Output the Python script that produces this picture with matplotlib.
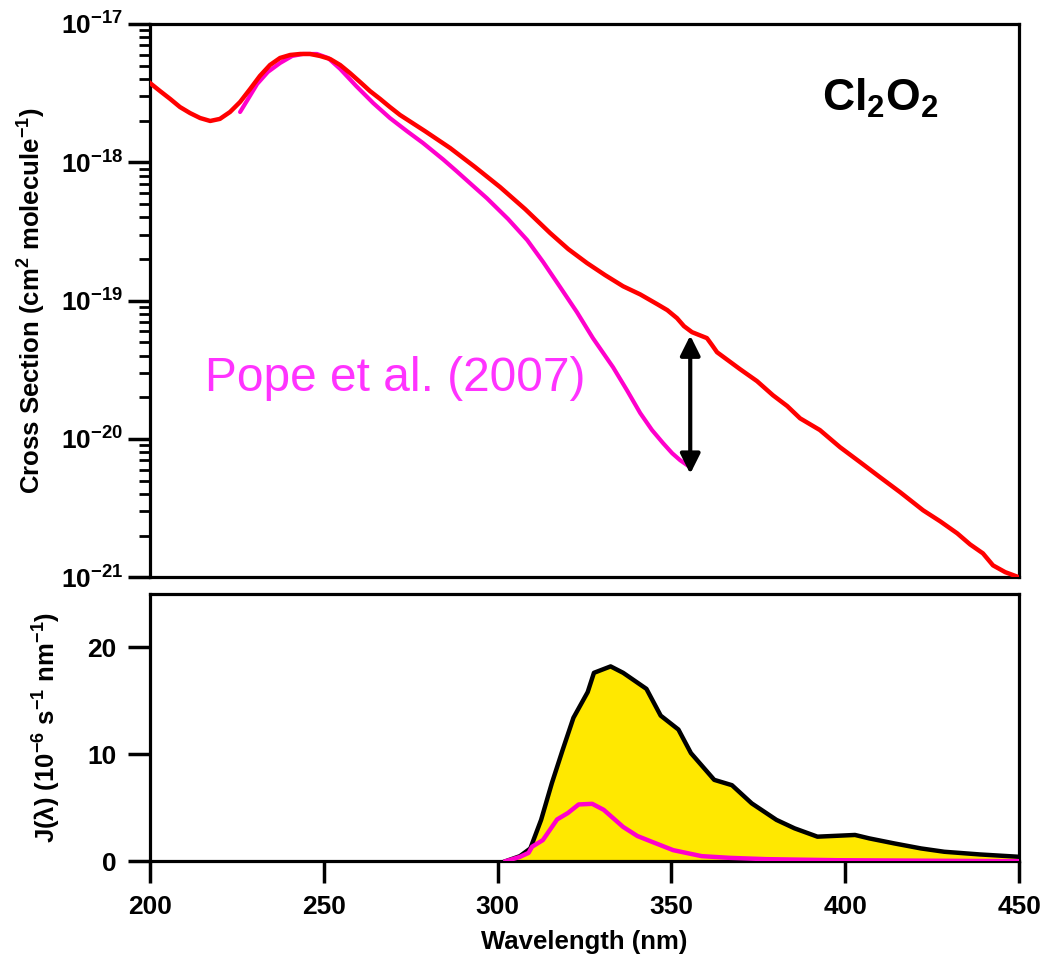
import math
import matplotlib
matplotlib.use("Agg")
import matplotlib.pyplot as plt
from matplotlib.ticker import LogLocator, FuncFormatter, NullFormatter

plt.rcParams['font.family'] = ['Liberation Sans', 'DejaVu Sans']
plt.rcParams['font.weight'] = 'bold'
plt.rcParams['mathtext.fontset'] = 'custom'
plt.rcParams['mathtext.rm'] = 'Liberation Sans:bold'
plt.rcParams['mathtext.bf'] = 'Liberation Sans:bold'
plt.rcParams['mathtext.default'] = 'bf'
plt.rcParams['axes.unicode_minus'] = False

# cross section (red curve)
wl_xs = [200.0, 202.9, 205.8, 208.6, 211.5, 214.4, 217.3, 220.1, 223.0, 225.9,
         228.8, 231.6, 234.5, 237.4, 240.3, 243.2, 246.0, 248.9, 251.8, 254.7,
         257.5, 260.4, 263.3, 266.2, 269.0, 271.9, 279.1, 286.3, 293.5, 300.7,
         307.9, 315.1, 320.3, 325.7, 330.9, 336.1, 341.0, 345.9, 348.8, 351.6,
         353.6, 355.9, 360.2, 361.7, 363.1, 369.7, 374.6, 379.2, 383.3, 387.0,
         392.7, 398.5, 404.3, 410.0, 415.8, 422.4, 427.3, 432.2, 435.9, 439.6,
         442.5, 446.0, 450.0]
xs_red = [3.74e-18, 3.27e-18, 2.87e-18, 2.51e-18, 2.27e-18, 2.09e-18, 1.99e-18,
          2.06e-18, 2.31e-18, 2.73e-18, 3.39e-18, 4.21e-18, 5.05e-18, 5.68e-18,
          5.97e-18, 6.07e-18, 6.07e-18, 5.87e-18, 5.58e-18, 5.05e-18, 4.42e-18,
          3.81e-18, 3.27e-18, 2.87e-18, 2.51e-18, 2.20e-18, 1.68e-18, 1.27e-18,
          9.24e-19, 6.62e-19, 4.59e-19, 3.08e-19, 2.36e-19, 1.87e-19, 1.53e-19,
          1.27e-19, 1.11e-19, 9.43e-20, 8.54e-20, 7.47e-20, 6.54e-20, 5.92e-20,
          5.36e-20, 4.76e-20, 4.24e-20, 3.20e-20, 2.62e-20, 2.07e-20, 1.73e-20,
          1.41e-20, 1.16e-20, 8.72e-21, 6.79e-21, 5.29e-21, 4.12e-21, 3.05e-21,
          2.54e-21, 2.08e-21, 1.73e-21, 1.49e-21, 1.22e-21, 1.09e-21, 1.0e-21]

# Pope et al. (2007)
wl_pope = [225.9, 228.2, 230.8, 233.9, 237.4, 240.9, 244.0, 248.0, 251.2, 254.7,
           259.3, 264.2, 269.0, 273.9, 278.5, 284.3, 288.0, 292.9, 296.9, 303.0,
           308.5, 313.1, 318.0, 322.8, 327.4, 333.2, 337.2, 341.0, 344.4, 347.6,
           350.2, 352.5, 355.4]
xs_pope = [2.31e-18, 2.87e-18, 3.68e-18, 4.50e-18, 5.22e-18, 5.87e-18, 6.07e-18,
           6.07e-18, 5.68e-18, 4.73e-18, 3.56e-18, 2.68e-18, 2.09e-18, 1.68e-18,
           1.38e-18, 1.05e-18, 8.71e-19, 6.76e-19, 5.50e-19, 3.89e-19, 2.74e-19,
           1.90e-19, 1.25e-19, 8.26e-20, 5.36e-20, 3.30e-20, 2.25e-20, 1.54e-20,
           1.16e-20, 9.32e-21, 7.89e-21, 7.02e-21, 6.25e-21]

# J(lambda)
wl_j = [302.3, 306.4, 309.4, 312.5, 315.6, 318.7, 321.8, 325.9, 327.7, 332.5,
        336.1, 342.8, 346.9, 352.0, 355.6, 362.3, 367.4, 373.1, 380.2, 385.4,
        392.0, 402.8, 406.9, 414.1, 421.8, 428.5, 438.7, 450]
j_red = [0, 0.47, 1.19, 3.86, 7.3, 10.4, 13.4, 15.8, 17.6, 18.2, 17.6, 16.1,
         13.6, 12.3, 10.1, 7.6, 7.1, 5.4, 3.86, 3.07, 2.29, 2.45, 2.13, 1.66,
         1.19, 0.88, 0.63, 0.41]

wl_jp = [302.3, 306.4, 308.9, 309.9, 313.0, 317.1, 320.2, 323.3, 327.2, 330.5,
         336.1, 340.2, 344.3, 350.5, 358.7, 366.9, 377.2, 397.7, 450]
j_pope = [0, 0.4, 0.78, 1.35, 1.97, 3.9, 4.5, 5.3, 5.36, 4.8, 3.2, 2.35, 1.82,
          1.03, 0.47, 0.31, 0.19, 0.09, 0.0]

decades = [1e-21, 1e-20, 1e-19, 1e-18, 1e-17]
arrow_wl = 355.4
arrow_lo, arrow_hi = 5.6e-21, 5.6e-20

red = '#FF0000'
mag = '#FF00CC'
yellow = '#FFE800'
sw = 2.3
tick_fs = 19
lab_fs = 18.5

fig = plt.figure(figsize=(10.42, 9.59), dpi=100)
ax1 = fig.add_axes([0.144, 0.398, 0.834, 0.577])
ax2 = fig.add_axes([0.144, 0.102, 0.834, 0.279])

# top panel
ax1.plot(wl_xs, xs_red, color=red, lw=3.2, zorder=3)
ax1.plot(wl_pope, xs_pope, color=mag, lw=3.0, zorder=2, solid_capstyle='round')
ax1.set_yscale('log')
ax1.set_xlim(200, 450)
ax1.set_ylim(1e-21, 1e-17)
ax1.annotate('', xy=(arrow_wl, arrow_hi), xytext=(arrow_wl, arrow_lo),
             arrowprops=dict(arrowstyle='<|-|>', color='black', lw=3,
                             mutation_scale=30, shrinkA=0, shrinkB=0))
ax1.set_yticks(decades)
ax1.yaxis.set_minor_locator(LogLocator(base=10, subs=range(2, 10), numticks=20))
ax1.yaxis.set_major_formatter(FuncFormatter(lambda v, p: r'$10^{%d}$' % round(math.log10(v))))
ax1.yaxis.set_minor_formatter(NullFormatter())
ax1.tick_params(axis='y', which='major', direction='out', length=16, width=2.5, labelsize=tick_fs)
ax1.tick_params(axis='y', which='minor', direction='out', length=8, width=2)
ax1.tick_params(axis='x', which='both', bottom=False, labelbottom=False)
for t in ax1.yaxis.get_major_ticks():
    t.label1.set_verticalalignment('center_baseline')
ax1.set_ylabel(r'Cross Section (cm$^{2}$ molecule$^{-1}$)', fontsize=lab_fs, fontweight='bold')
ax1.yaxis.set_label_coords(-0.118, 0.5)
ax1.text(0.84, 0.865, r'Cl$_{2}$O$_{2}$', transform=ax1.transAxes, fontsize=32,
         fontweight='bold', ha='center', va='center')
ax1.text(215.8, 10 ** -19.56, 'Pope et al. (2007)', color='#FF33FF', fontsize=34.5,
         fontweight='normal', ha='left', va='center')

# bottom panel
ax2.fill_between(wl_j, j_red, 0, color=yellow, lw=0, zorder=1)
ax2.plot(wl_j, j_red, color='black', lw=3.2, zorder=3)
ax2.plot(wl_jp, j_pope, color=mag, lw=3.2, zorder=4)
ax2.set_xlim(200, 450)
ax2.set_ylim(0, 25)
ax2.set_xticks([200, 250, 300, 350, 400, 450])
ax2.set_yticks([0, 10, 20])
ax2.tick_params(direction='out', length=16, width=2.5, labelsize=tick_fs, pad=8)
ax2.set_xlabel('Wavelength (nm)', fontsize=lab_fs, fontweight='bold', labelpad=8)
ax2.set_ylabel(r'J($\lambda$) (10$^{-6}$ s$^{-1}$ nm$^{-1}$)', fontsize=lab_fs, fontweight='bold')
ax2.yaxis.set_label_coords(-0.1, 0.5)

for ax in (ax1, ax2):
    for s in ax.spines.values():
        s.set_linewidth(sw)

fig.savefig('out.png', dpi=100)
